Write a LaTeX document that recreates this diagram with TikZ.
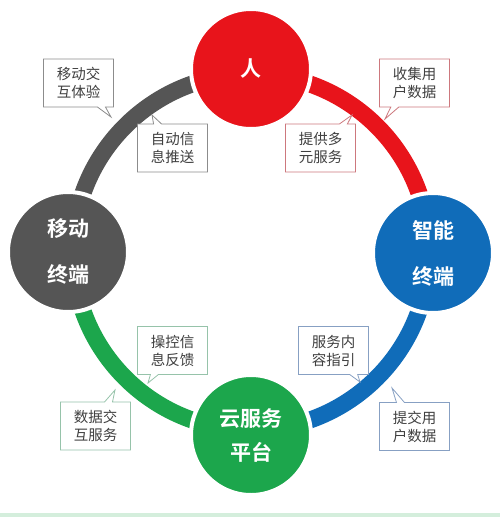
\documentclass[tikz,border=0pt]{standalone}
\usepackage{fontspec}
\newfontfamily\cjk{Noto Sans CJK SC}[BoldFont={Noto Sans CJK SC Bold}]
\usetikzlibrary{shapes.callouts}
\definecolor{cred}{RGB}{232,20,27}
\definecolor{cblue}{RGB}{16,108,185}
\definecolor{cgreen}{RGB}{28,166,76}
\definecolor{cgray}{RGB}{85,85,85}
\definecolor{bgray}{RGB}{140,140,140}
\definecolor{bred}{RGB}{205,120,125}
\definecolor{bgreen}{RGB}{150,195,170}
\definecolor{bblue}{RGB}{135,160,195}
\definecolor{notetext}{RGB}{64,64,64}
\definecolor{strip}{RGB}{212,238,220}
\begin{document}
\begin{tikzpicture}[x=1pt,y=1pt,
  hub/.style={circle,minimum size=120pt,draw=white,line width=4pt,text=white,
    font=\cjk\bfseries\fontsize{21}{46}\selectfont,align=center,inner sep=0pt},
  band/.style={line width=17pt},
  note/.style={rectangle callout,draw,line width=0.8pt,fill=white,
    minimum width=70pt,minimum height=48pt,inner sep=2pt,align=center,
    font=\cjk\fontsize{14.5}{18}\selectfont,text=notetext,callout pointer width=8pt}]
\useasboundingbox (0,0) rectangle (500,-517);
\fill[white] (0,0) rectangle (500,-517);
\fill[strip] (0,-513) rectangle (500,-517);
\coordinate (o) at (251,-252);
% ring bands
\draw[band,cgray] (o) ++(180:178) arc[start angle=180,end angle=90,radius=178];
\draw[band,cred] (o) ++(90:178) arc[start angle=90,end angle=0,radius=178];
\draw[band,cblue] (o) ++(0:178) arc[start angle=360,end angle=270,radius=178];
\draw[band,cgreen] (o) ++(270:178) arc[start angle=270,end angle=180,radius=178];
% hubs
\node[hub,fill=cred,text height=17pt] (ren) at (251,-69) {人};
\node[hub,fill=cblue] (zn) at (433,-253) {智能\\终端};
\node[hub,fill=cgreen,font=\cjk\bfseries\fontsize{21}{34}\selectfont] (yun) at (251,-435) {云服务\\平台};
\node[hub,fill=cgray] (yd) at (68,-252) {移动\\终端};
% callouts
\node[note,draw=bgray,callout absolute pointer={(111,-117)}] (n1) at (78.5,-83) {移动交\\互体验};
\node[note,draw=bgray,callout absolute pointer={(152,-115)}] (n2) at (172.5,-148) {自动信\\息推送};
\node[note,draw=bred,callout absolute pointer={(385,-119)}] (n3) at (414.5,-83) {收集用\\户数据};
\node[note,draw=bred,callout absolute pointer={(352,-115)}] (n4) at (320.5,-148) {提供多\\元服务};
\node[note,draw=bgreen,callout absolute pointer={(148,-383)}] (n5) at (172.5,-350.5) {操控信\\息反馈};
\node[note,draw=bgreen,callout absolute pointer={(115,-390)}] (n6) at (95.5,-426) {数据交\\互服务};
\node[note,draw=bblue,callout absolute pointer={(360,-382)}] (n7) at (333.5,-350.5) {服务内\\容指引};
\node[note,draw=bblue,callout absolute pointer={(392,-388)}] (n8) at (414.5,-426.5) {提交用\\户数据};
\end{tikzpicture}
\end{document}
